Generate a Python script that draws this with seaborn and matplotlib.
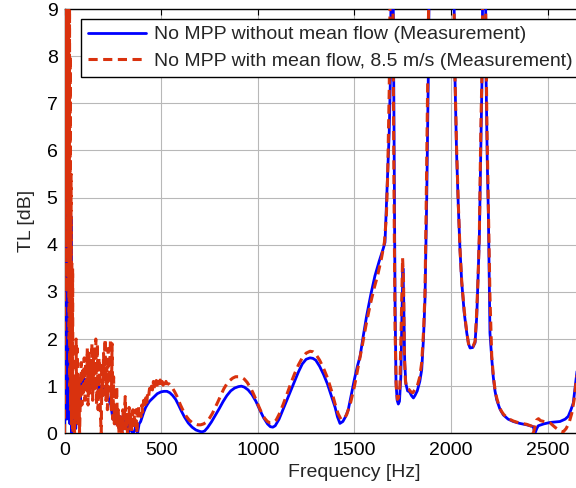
import matplotlib
matplotlib.use("Agg")
import matplotlib.pyplot as plt
import pandas as pd
import seaborn as sns

# ---------------------------------------------------------------------------
# Data (frequency in Hz, TL in dB)
# ---------------------------------------------------------------------------
blue_freq = [
    0, 2, 4, 6, 8, 10, 12, 14, 16, 18, 20, 22, 24, 26, 28, 30, 32, 34, 36, 38,
    42, 46, 50, 54, 58, 62, 66, 70, 76, 82, 88, 92, 96, 102, 108, 114, 120,
    128, 136, 144, 152, 160, 168, 176, 184, 192, 200, 210, 220, 230, 240, 250,
    258, 266, 274, 282, 290, 298, 306, 314, 322, 330, 338, 346, 354, 362, 370,
    378, 386, 394, 402, 410, 420, 430, 440, 450, 460, 470, 480, 490, 500, 515,
    530, 545, 560, 575, 590, 605, 620, 640, 660, 680, 700, 712, 725, 740, 760,
    780, 800, 820, 840, 860, 880, 900, 915, 930, 950, 970, 990, 1010, 1030,
    1050, 1065, 1078, 1090, 1110, 1130, 1150, 1170, 1190, 1210, 1230, 1250,
    1270, 1285, 1300, 1320, 1340, 1360, 1380, 1400, 1412, 1425, 1440, 1455,
    1468, 1485, 1500, 1515, 1529, 1545, 1563, 1585, 1606, 1628, 1649, 1658,
    1667, 1680, 1686, 1692, 1698, 1704, 1710, 1715, 1721, 1727, 1733, 1740,
    1746, 1751, 1755, 1760, 1766, 1775, 1785, 1795, 1805, 1813, 1825, 1838,
    1848, 1857, 1865, 1874, 1882, 1890, 1950, 2010, 2020, 2028, 2037, 2046,
    2055, 2068, 2081, 2090, 2098, 2112, 2124, 2133, 2146, 2155, 2160, 2166,
    2176, 2181, 2187, 2193, 2201, 2210, 2218, 2227, 2236, 2252, 2270, 2295,
    2322, 2355, 2391, 2425, 2434, 2443, 2451, 2480, 2512, 2563, 2590, 2606,
    2620, 2632, 2646, 2660,
]
blue_tl = [
    0, 9.5, 0.5, 12, 1, 9, 0.3, 8, 2, 6.5, 0.5, 5.7, 1, 5.7, 0.2, 4.7, 0.6,
    4.6, 0.0, 0.65, 0.65, 0.0, 0.6, 0.65, 0.1, 0.6, 0.7, 0.3, 0.9, 0.7, 1.27,
    1.0, 1.2, 1.0, 1.15, 0.95, 1.1, 1.0, 1.2, 0.95, 1.1, 1.0, 1.05, 0.9, 1.0,
    0.8, 1.0, 0.85, 0.9, 0.7, 0.6, 0.3, 0.6, 0.2, 0.4, 0.1, 0.35, 0.05, 0.3,
    0.1, 0.25, 0.0, 0.2, 0.05, 0.0, 0.05, 0.15, 0.0, 0.2, 0.25, 0.35, 0.45,
    0.55, 0.62, 0.68, 0.72, 0.76, 0.8, 0.84, 0.86, 0.88, 0.89, 0.89, 0.86,
    0.8, 0.72, 0.6, 0.47, 0.35, 0.22, 0.13, 0.07, 0.04, 0.03, 0.05, 0.12,
    0.24, 0.38, 0.52, 0.67, 0.8, 0.9, 0.96, 0.99, 1.0, 0.98, 0.92, 0.82,
    0.68, 0.5, 0.33, 0.2, 0.14, 0.13, 0.16, 0.3, 0.5, 0.7, 0.9, 1.1, 1.3,
    1.47, 1.57, 1.6, 1.59, 1.55, 1.42, 1.25, 1.05, 0.8, 0.55, 0.35, 0.21,
    0.25, 0.36, 0.5, 0.85, 1.15, 1.42, 1.63, 2.05, 2.49, 2.95, 3.34, 3.65,
    3.92, 4.05, 5.0, 6.4, 7.55, 11, 11, 7.0, 2.85, 1.07, 0.7, 0.62, 0.68,
    1.2, 2.6, 3.5, 2.8, 1.5, 1.05, 0.9, 0.88, 0.8, 0.75, 0.8, 0.9, 1.1, 1.35,
    2.0, 2.85, 5.0, 7.55, 11, 16, 11, 7.55, 6.0, 4.85, 3.9, 3.2, 2.55, 2.13,
    1.9, 1.81, 1.82, 1.92, 2.5, 4.14, 6.4, 7.55, 11, 11, 7.55, 5.8, 4.6,
    2.13, 1.6, 1.2, 0.9, 0.71, 0.52, 0.39, 0.3, 0.25, 0.21, 0.18, 0.14, 0.0,
    0.1, 0.16, 0.2, 0.23, 0.25, 0.3, 0.36, 0.5, 0.64, 1.14, 1.6,
]

red_freq = [
    0, 2, 4, 6, 8, 10, 12, 14, 16, 18, 20, 22, 24, 26, 28, 30, 32, 34, 36, 38,
    40, 42, 44, 48, 52, 56, 60, 63, 66, 70, 74, 78, 82, 86, 90, 94, 98, 102,
    106, 110, 114, 118, 122, 126, 130, 134, 138, 142, 146, 150, 154, 158, 162,
    166, 170, 174, 178, 182, 186, 190, 194, 198, 202, 206, 210, 214, 218, 222,
    226, 230, 234, 238, 242, 246, 250, 254, 258, 262, 266, 270, 274, 278, 282,
    286, 290, 294, 298, 302, 306, 310, 314, 318, 322, 326, 330, 334, 338, 342,
    346, 350, 354, 358, 362, 366, 370, 374, 378, 382, 386, 390, 395, 400, 405,
    410, 415, 420, 425, 430, 435, 440, 445, 450, 455, 460, 465, 470, 475, 480,
    485, 490, 495, 500, 505, 510, 515, 520, 525, 530, 540, 550, 560, 570, 580,
    590, 600, 615, 630, 645, 660, 675, 690, 705, 720, 735, 750, 765, 780, 795,
    810, 825, 840, 855, 870, 885, 900, 915, 930, 945, 960, 975, 990, 1005,
    1020, 1035, 1050, 1065, 1080, 1095, 1110, 1130, 1150, 1170, 1190, 1210,
    1230, 1250, 1270, 1285, 1300, 1320, 1340, 1360, 1380, 1400, 1415, 1430,
    1445, 1460, 1480, 1500, 1520, 1540, 1560, 1580, 1600, 1620, 1640, 1655,
    1665, 1672, 1680, 1686, 1692, 1698, 1704, 1710, 1716, 1722, 1728, 1735,
    1742, 1749, 1754, 1758, 1764, 1772, 1782, 1792, 1802, 1812, 1825, 1838,
    1848, 1858, 1865, 1871, 1877, 1883, 1889, 1950, 2012, 2020, 2028, 2037,
    2046, 2055, 2068, 2081, 2090, 2100, 2113, 2124, 2131, 2139, 2146, 2154,
    2160, 2165, 2173, 2179, 2185, 2193, 2201, 2210, 2219, 2228, 2236, 2248,
    2260, 2272, 2292, 2322, 2352, 2391, 2418, 2425, 2432, 2442, 2452, 2462,
    2480, 2512, 2540, 2565, 2580, 2595, 2610, 2624, 2636, 2646, 2660,
]
red_tl = [
    0, 12, 3, 12, 5, 12, 4, 12, 6, 12, 3, 10, 2, 9, 1, 8, 0.5, 5.5, 0.2, 3.6,
    0.5, 3.5, 0.0, 1.2, 0.0, 1.4, 2.0, 0.3, 1.8, 0.2, 1.2, 0.0, 0.8, 1.5, 0.6,
    1.4, 0.8, 1.6, 0.7, 1.5, 0.9, 1.8, 0.6, 1.7, 0.8, 1.5, 1.0, 1.9, 0.7, 1.6,
    0.9, 1.8, 2.0, 0.6, 1.9, 0.5, 1.6, 1.2, 0.4, 0.0, 1.5, 0.8, 1.7, 1.1, 2.0,
    0.7, 1.4, 0.5, 1.8, 0.9, 1.4, 2.0, 0.5, 1.9, 0.3, 1.2, 0.2, 0.6, 0.3, 1.0,
    0.1, 0.5, 0.0, 0.4, 0.1, 0.3, 0.0, 0.5, 0.1, 0.3, 0.78, 0.05, 0.4, 0.0,
    0.3, 0.55, 0.1, 0.4, 0.0, 0.3, 0.5, 0.1, 0.4, 0.2, 0.5, 0.0, 0.3, 0.6,
    0.4, 0.5, 0.35, 0.6, 0.45, 0.7, 0.55, 0.75, 0.62, 0.85, 0.78, 0.95, 0.85,
    1.0, 0.92, 1.1, 0.95, 1.05, 1.12, 0.98, 1.1, 1.05, 1.13, 1.0, 1.1, 1.02,
    1.12, 1.05, 1.1, 1.05, 1.05, 1.0, 0.95, 0.88, 0.8, 0.7, 0.6, 0.47, 0.36,
    0.28, 0.23, 0.2, 0.18, 0.18, 0.2, 0.24, 0.32, 0.42, 0.55, 0.68, 0.82,
    0.95, 1.05, 1.12, 1.17, 1.2, 1.2, 1.19, 1.15, 1.08, 0.98, 0.86, 0.72,
    0.57, 0.43, 0.32, 0.25, 0.22, 0.23, 0.28, 0.4, 0.6, 0.82, 1.05, 1.26,
    1.45, 1.6, 1.7, 1.74, 1.73, 1.68, 1.55, 1.38, 1.18, 0.92, 0.62, 0.42,
    0.3, 0.3, 0.4, 0.65, 1.0, 1.42, 1.85, 2.3, 2.7, 3.05, 3.35, 3.72, 4.05,
    4.6, 5.5, 7.3, 10, 12, 10, 5.5, 2.2, 1.0, 0.72, 0.75, 1.0, 2.3, 3.72, 3.2,
    1.7, 1.1, 0.95, 0.93, 0.88, 0.86, 0.92, 1.0, 1.2, 1.5, 2.2, 3.0, 4.8, 6.8,
    8.8, 11, 16, 10, 7.6, 6.1, 4.9, 3.9, 3.22, 2.6, 2.15, 1.9, 1.82, 1.84,
    1.95, 2.45, 3.25, 4.2, 6.5, 7.7, 10, 11, 9, 6.6, 4.7, 2.9, 1.65, 1.2, 0.9,
    0.75, 0.58, 0.47, 0.4, 0.32, 0.26, 0.22, 0.19, 0.15, 0.0, 0.1, 0.28, 0.31,
    0.27, 0.25, 0.22, 0.12, 0.05, 0.03, 0.1, 0.22, 0.42, 0.7, 1.07, 1.5,
]

label_blue = "No MPP without mean flow (Measurement)"
label_red = "No MPP with mean flow, 8.5 m/s (Measurement)"
x_ticks = [0, 500, 1000, 1500, 2000, 2500]
y_ticks = [0, 1, 2, 3, 4, 5, 6, 7, 8, 9]

BLUE = "#0000ff"
RED = "#d9320e"

sns.set_style("white")
plt.rcParams["font.family"] = ["Liberation Sans", "DejaVu Sans"]
plt.rcParams["font.size"] = 14

df_blue = pd.DataFrame({"freq": blue_freq, "tl": blue_tl})
df_red = pd.DataFrame({"freq": red_freq, "tl": red_tl})

fig = plt.figure(figsize=(5.76, 4.88), dpi=100)
# axes run off the right edge of the picture, like the cropped original
ax = fig.add_axes([64.5 / 576, (488 - 433.3) / 488,
                   (0.1933 * 3000) / 576, (433.3 - 9) / 488])

sns.lineplot(data=df_blue, x="freq", y="tl", ax=ax, color=BLUE,
             linewidth=2.0, sort=False, estimator=None, label=label_blue,
             zorder=3)
sns.lineplot(data=df_red, x="freq", y="tl", ax=ax, color=RED,
             linewidth=2.2, linestyle=(0, (3.0, 1.8)), sort=False,
             estimator=None, label=label_red, zorder=4)

ax.set_xlim(0, 3000)
ax.set_ylim(0, 9)
ax.set_xticks(x_ticks)
ax.set_yticks(y_ticks)
ax.grid(True, color="#b8b8b8", linewidth=0.8)
ax.set_axisbelow(True)
for sp in ax.spines.values():
    sp.set_color("black")
    sp.set_linewidth(1.0)
ax.tick_params(direction="in", length=4, width=0.8, top=True, right=True,
               colors="black", labelsize=14)
ax.tick_params(axis="x", pad=6)
ax.tick_params(axis="y", pad=5)
ax.set_xlabel("Frequency [Hz]", fontsize=14, labelpad=4)
ax.set_ylabel("TL [dB]", fontsize=14, labelpad=8)

leg = ax.legend(loc="upper left", bbox_to_anchor=(81 / 576, 1 - 19 / 488),
                bbox_transform=fig.transFigure, fontsize=14, frameon=True,
                fancybox=False, framealpha=1, edgecolor="black",
                borderaxespad=0, borderpad=0.35, handlelength=3.0,
                handletextpad=0.4, labelspacing=0.45)
leg.get_frame().set_linewidth(1.0)
leg.set_zorder(10)

fig.savefig("out.png", dpi=100)
